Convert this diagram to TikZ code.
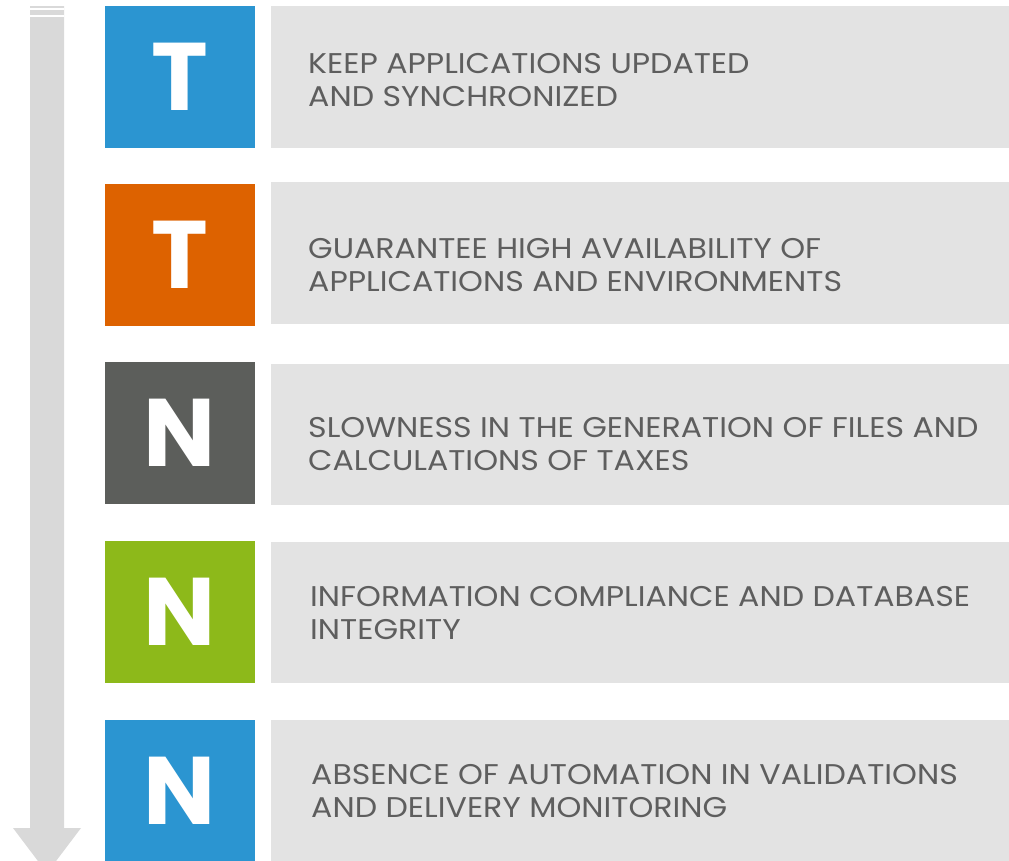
\documentclass[tikz,border=0pt]{standalone}
\usepackage{fontspec}
\setmainfont{Poppins}
\newfontfamily\widefont[FakeStretch=1.11]{Poppins}
\usepackage{tikz}
\usepackage{xcolor}
\definecolor{tblue}{HTML}{2B95D1}
\definecolor{torange}{HTML}{DD6200}
\definecolor{tdark}{HTML}{5C5E5B}
\definecolor{tgreen}{HTML}{8DB91A}
\definecolor{panelgray}{HTML}{E3E3E3}
\definecolor{arrowgray}{HTML}{D9D9D9}
\definecolor{textgray}{HTML}{5E5E5E}

\begin{document}
\begin{tikzpicture}[x=1pt,y=-1pt,
  letterbox/.style={minimum width=150pt, minimum height=142pt, inner sep=0pt,
    text=white, font=\fontsize{96}{96}\selectfont\bfseries},
  panel/.style={fill=panelgray, minimum width=745pt, inner sep=0pt, anchor=west},
  label/.style={anchor=west, align=left, inner sep=0pt, text=textgray,
    font=\widefont\fontsize{28.5}{33}\selectfont}]
\useasboundingbox (0,0) rectangle (1009,860);

% arrow on the left
\fill [arrowgray] (30,6) -- (64,6) -- (64,828) -- (81,828) -- (47,873) -- (13,828) -- (30,828) -- cycle;
\draw [white, line width=2pt] (30,9) -- (64,9);
\draw [white, line width=2pt] (30,15.7) -- (64,15.7);

% panels
\node [panel, minimum height=142pt] (p1) at (271,77) {};
\node [panel, minimum height=142pt] (p2) at (271,253) {};
\node [panel, minimum height=141pt] (p3) at (271,434.5) {};
\node [panel, minimum height=141pt] (p4) at (271,612.5) {};
\node [panel, minimum height=142pt] (p5) at (271,791) {};

% letters
\node [letterbox, fill=tblue] (l1) at (180,77) {T};
\node [letterbox, fill=torange] (l2) at (180,255) {T};
\node [letterbox, fill=tdark] (l3) at (180,433) {N};
\node [letterbox, fill=tgreen] (l4) at (180,612) {N};
\node [letterbox, fill=tblue] (l5) at (180,791) {N};

% texts
\node [label] (t1) at (308,80.5) {KEEP APPLICATIONS UPDATED\\AND SYNCHRONIZED};
\node [label] (t2) at (308,264.7) {GUARANTEE HIGH AVAILABILITY OF\\APPLICATIONS AND ENVIRONMENTS};
\node [label] (t3) at (308,444) {SLOWNESS IN THE GENERATION OF FILES AND\\CALCULATIONS OF TAXES};
\node [label] (t4) at (310,613.3) {INFORMATION COMPLIANCE AND DATABASE\\INTEGRITY};
\node [label] (t5) at (311,791.5) {ABSENCE OF AUTOMATION IN VALIDATIONS\\AND DELIVERY MONITORING};
\end{tikzpicture}
\end{document}
